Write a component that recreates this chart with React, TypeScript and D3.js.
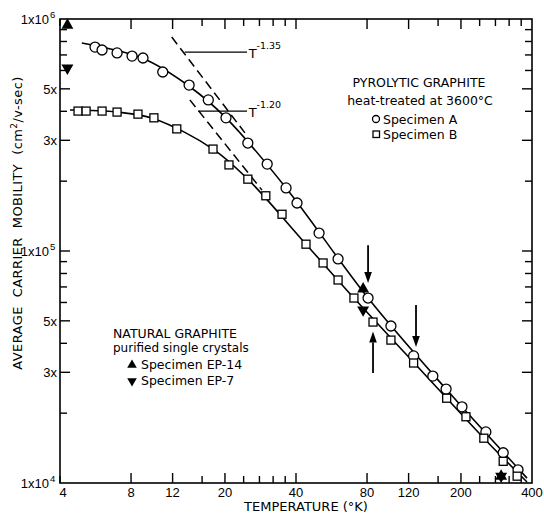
import React from "react";
import * as d3 from "d3";

// Specimen A (circles) - pyrolytic graphite
const tempA = [5.63, 6.03, 6.98, 8.08, 8.99, 10.9, 14.1, 17.0, 20.2, 25.0, 30.2, 36.3, 40.4, 50.1, 60.3, 80.8, 101, 126, 152, 173, 202, 255, 302, 349];
const mobA = [7.57e5, 7.35e5, 7.14e5, 6.92e5, 6.79e5, 5.91e5, 5.19e5, 4.48e5, 3.75e5, 2.92e5, 2.37e5, 1.87e5, 1.61e5, 1.195e5, 9.24e4, 6.27e4, 4.75e4, 3.53e4, 2.89e4, 2.54e4, 2.13e4, 1.66e4, 1.35e4, 1.14e4];

// Specimen B (squares)
const tempB = [4.77, 5.16, 6.03, 6.98, 8.56, 10.0, 12.5, 17.8, 20.8, 25.0, 29.8, 34.9, 44.1, 52.1, 60.3, 70.4, 84.8, 101, 126, 174, 210, 250, 302, 346];
const mobB = [4.01e5, 4.01e5, 4.01e5, 3.97e5, 3.89e5, 3.75e5, 3.36e5, 2.75e5, 2.35e5, 2.04e5, 1.73e5, 1.44e5, 1.07e5, 8.88e4, 7.5e4, 6.27e4, 4.94e4, 4.13e4, 3.29e4, 2.32e4, 1.93e4, 1.56e4, 1.24e4, 1.07e4];

// smooth curves drawn through the data
const fitTempA = [4.95, 9.0, 14.1, 20.2, 36.3, 80.8, 173, 381];
const fitMobA = [7.88e5, 6.75e5, 5.13e5, 3.75e5, 1.87e5, 6.27e4, 2.54e4, 1.05e4];
const fitTempB = [4.41, 6.98, 10, 17.8, 25, 44.1, 70.4, 126.5, 250, 381];
const fitMobB = [4.05e5, 3.97e5, 3.72e5, 2.75e5, 2.04e5, 1.07e5, 6.27e4, 3.3e4, 1.56e4, 1.01e4];

// natural graphite
const tempEP14 = [4.3, 77, 296];
const mobEP14 = [9.4e5, 6.86e4, 1.07e4];
const tempEP7 = [4.3, 77, 296];
const mobEP7 = [6.15e5, 5.57e4, 1.07e4];

// power-law guides [T start, mu start, T end, mu end]
const guide135 = [11.9, 8.36e5, 24.3, 3.23e5];
const guide120 = [14.2, 4.48e5, 28.7, 1.83e5];

const xTicks = [4, 8, 12, 16, 20, 24, 28, 32, 36, 40, 80, 120, 160, 200, 240, 280, 320, 360];
const xMajor = [8, 12, 20, 40, 80, 120, 200];
const xLabels = [4, 8, 12, 20, 40, 80, 120, 200, 400];
const yTicks = [2e4, 3e4, 4e4, 5e4, 6e4, 7e4, 8e4, 9e4, 1e5, 2e5, 3e5, 4e5, 5e5, 6e5, 7e5, 8e5, 9e5];
const yMajor = [3e4, 5e4, 1e5, 3e5, 5e5];
const yLabels = [
  { v: 1e6, t: "1x10", sup: "6" },
  { v: 5e5, t: "5x", sup: "" },
  { v: 3e5, t: "3x", sup: "" },
  { v: 1e5, t: "1x10", sup: "5" },
  { v: 5e4, t: "5x", sup: "" },
  { v: 3e4, t: "3x", sup: "" },
  { v: 1e4, t: "1x10", sup: "4" },
];

const W = 544, H = 516;
const left = 60, right = 532, top = 19, bottom = 483;
const numFont = "'Liberation Sans', Arial, sans-serif";
const txtFont = "'DejaVu Sans', sans-serif";
const pre = { whiteSpace: "pre" as const };

export default function App() {
  const x = d3.scaleLog().domain([4, 400]).range([left, right]);
  const y = d3.scaleLog().domain([1e4, 1e6]).range([bottom, top]);

  const line = d3.line<[number, number]>()
    .x(d => x(d[0]))
    .y(d => y(d[1]))
    .curve(d3.curveCatmullRom.alpha(0.5));

  const fitA = fitTempA.map((t, i) => [t, fitMobA[i]] as [number, number]);
  const fitB = fitTempB.map((t, i) => [t, fitMobB[i]] as [number, number]);

  const tri = d3.symbol(d3.symbolTriangle, 62)() as string;
  const triSmall = d3.symbol(d3.symbolTriangle, 40)() as string;

  const arrow = (t: number, from: number, to: number, key: string) => {
    const x0 = x(t), y0 = y(from), y1 = y(to);
    const dir = y1 > y0 ? 1 : -1;
    const hy = y1 - dir * 11;
    return (
      <g key={key}>
        <line x1={x0} y1={y0} x2={x0} y2={hy} stroke="#000" strokeWidth={1.8} />
        <path d={`M${x0},${y1} L${x0 + 3.8},${hy} L${x0 - 3.8},${hy} Z`} fill="#000" />
      </g>
    );
  };

  return (
    <svg width={W} height={H} style={{ position: "absolute", left: 0, top: 0, background: "#fff" }}
      fontFamily={numFont}>
      <rect x={left} y={top} width={right - left} height={bottom - top} fill="none" stroke="#000" strokeWidth={1.6} />

      {/* x ticks top and bottom */}
      {xTicks.map(t => {
        const len = xMajor.includes(t) ? 10 : 7;
        return (
          <g key={"xt" + t} stroke="#000" strokeWidth={1.4}>
            <line x1={x(t)} x2={x(t)} y1={bottom} y2={bottom - len} />
            <line x1={x(t)} x2={x(t)} y1={top} y2={top + len} />
          </g>
        );
      })}
      {/* y ticks left and right */}
      {yTicks.map(v => {
        const len = yMajor.includes(v) ? 10 : 7;
        return (
          <g key={"yt" + v} stroke="#000" strokeWidth={1.4}>
            <line x1={left} x2={left + len} y1={y(v)} y2={y(v)} />
            <line x1={right} x2={right - len} y1={y(v)} y2={y(v)} />
          </g>
        );
      })}

      {xLabels.map(t => (
        <text key={"xl" + t} x={x(t) + (t === 4 ? 3 : 0)} y={497} fontSize={13} textAnchor="middle">{t}</text>
      ))}
      {yLabels.map(l => (
        <text key={"yl" + l.v} x={l.sup ? 49 : 57} y={y(l.v) + 5} fontSize={13} textAnchor="end">{l.t}</text>
      ))}
      {yLabels.filter(l => l.sup).map(l => (
        <text key={"ys" + l.v} x={50} y={y(l.v) - 1} fontSize={9.5}>{l.sup}</text>
      ))}

      <g fontFamily={txtFont}>
        <text x={306} y={511} fontSize={13} textAnchor="middle">TEMPERATURE (°K)</text>
        <text transform={`translate(22,${223}) rotate(-90)`} fontSize={13} letterSpacing={0.4}
          textAnchor="middle" style={pre}>
          AVERAGE  CARRIER  MOBILITY  (cm<tspan fontSize={9} dy={-5}>2</tspan><tspan dy={5}>/v-sec)</tspan>
        </text>
      </g>

      {/* guide lines */}
      {[guide135, guide120].map((g, i) => (
        <line key={"g" + i} x1={x(g[0])} y1={y(g[1])} x2={x(g[2])} y2={y(g[3])}
          stroke="#000" strokeWidth={1.5} strokeDasharray="9,5" />
      ))}
      <line x1={x(13.5)} x2={x(24.8)} y1={y(7.2e5)} y2={y(7.2e5)} stroke="#000" strokeWidth={1.3} />
      <line x1={x(15.4)} x2={x(24.8)} y1={y(4.01e5)} y2={y(4.01e5)} stroke="#000" strokeWidth={1.3} />
      <g fontFamily={txtFont}>
        <text x={x(25.2)} y={y(7.2e5) + 6} fontSize={13}>T</text>
        <text x={x(27.2)} y={y(7.2e5) - 3} fontSize={9.5}>-1.35</text>
        <text x={x(25.2)} y={y(4.01e5) + 6} fontSize={13}>T</text>
        <text x={x(27.2)} y={y(4.01e5) - 3} fontSize={9.5}>-1.20</text>
      </g>

      {/* fit curves */}
      <path d={line(fitA) as string} fill="none" stroke="#000" strokeWidth={1.6} />
      <path d={line(fitB) as string} fill="none" stroke="#000" strokeWidth={1.6} />

      {/* data markers */}
      {tempA.map((t, i) => (
        <circle key={"a" + i} cx={x(t)} cy={y(mobA[i])} r={5} fill="#fff" stroke="#000" strokeWidth={1.3} />
      ))}
      {tempB.map((t, i) => (
        <rect key={"b" + i} x={x(t) - 4} y={y(mobB[i]) - 4} width={8} height={8} fill="#fff" stroke="#000" strokeWidth={1.3} />
      ))}
      {tempEP14.map((t, i) => (
        <path key={"u" + i} d={tri} transform={`translate(${x(t)},${y(mobEP14[i])})`} fill="#000" />
      ))}
      {tempEP7.map((t, i) => (
        <path key={"d" + i} d={tri} transform={`translate(${x(t)},${y(mobEP7[i])}) rotate(180)`} fill="#000" />
      ))}

      {/* arrows */}
      {arrow(80.8, 1.06e5, 7.28e4, "ar1")}
      {arrow(84.8, 2.98e4, 4.5e4, "ar2")}
      {arrow(129, 5.85e4, 3.86e4, "ar3")}

      <g fontFamily={txtFont} fontSize={12.5} style={pre}>
        {/* pyrolytic legend */}
        <text x={419} y={87} textAnchor="middle">PYROLYTIC  GRAPHITE</text>
        <text x={420} y={105} textAnchor="middle">heat-treated at 3600°C</text>
        <circle cx={376} cy={119} r={3.5} fill="#fff" stroke="#000" strokeWidth={1.3} />
        <text x={383} y={124}>Specimen  A</text>
        <rect x={373} y={131} width={6.5} height={6.5} fill="#fff" stroke="#000" strokeWidth={1.3} />
        <text x={383} y={139}>Specimen  B</text>

        {/* natural legend */}
        <text x={113} y={338}>NATURAL  GRAPHITE</text>
        <text x={113} y={352} fontSize={12}>purified single crystals</text>
        <path d={triSmall} transform="translate(132,365)" fill="#000" />
        <text x={141} y={369}>Specimen  EP-14</text>
        <path d={triSmall} transform="translate(132,381) rotate(180)" fill="#000" />
        <text x={141} y={385}>Specimen  EP-7</text>
      </g>
    </svg>
  );
}
